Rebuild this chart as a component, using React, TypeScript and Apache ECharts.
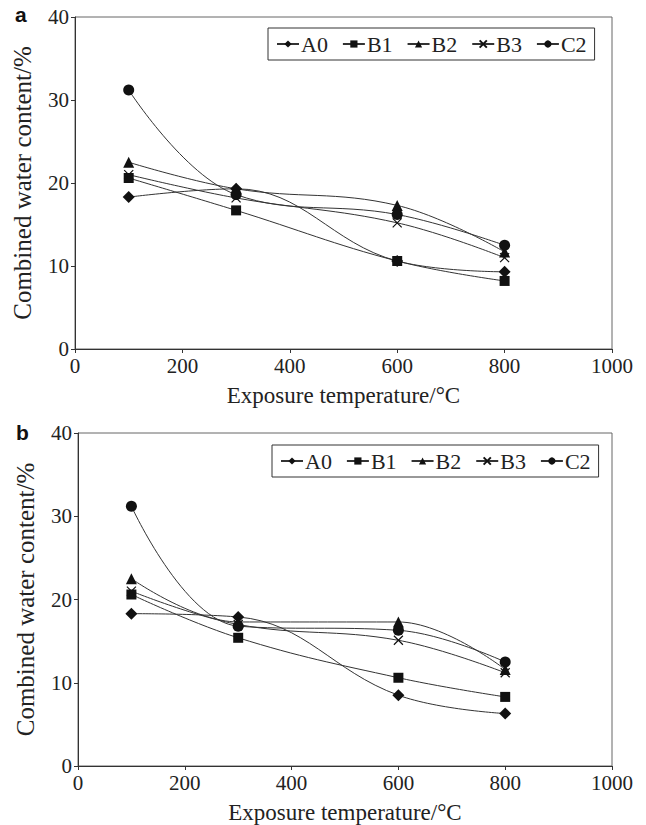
import React, { useEffect, useRef } from "react";
import * as echarts from "echarts";

const temperatures = [100, 300, 600, 800];
const seriesNames = ["A0", "B1", "B2", "B3", "C2"];

// Panel a
const a_A0 = [18.3, 19.3, 10.6, 9.3];
const a_B1 = [20.6, 16.7, 10.6, 8.2];
const a_B2 = [22.5, 19.3, 17.3, 11.7];
const a_B3 = [21.0, 18.2, 15.2, 11.0];
const a_C2 = [31.2, 18.6, 16.2, 12.5];

// Panel b
const b_A0 = [18.3, 17.9, 8.5, 6.3];
const b_B1 = [20.6, 15.4, 10.6, 8.3];
const b_B2 = [22.5, 17.3, 17.3, 11.6];
const b_B3 = [21.0, 17.0, 15.1, 11.2];
const b_C2 = [31.2, 16.8, 16.3, 12.5];

const xTicks = [0, 200, 400, 600, 800, 1000];
const yTicks = [0, 10, 20, 30, 40];

const symbols: Record<string, { symbol: string; size: number }> = {
  A0: { symbol: "diamond", size: 12 },
  B1: { symbol: "rect", size: 10 },
  B2: { symbol: "triangle", size: 11 },
  B3: { symbol: "path://M0,0L10,10M10,0L0,10", size: 9 },
  C2: { symbol: "circle", size: 11 },
};

const FONT = "Liberation Serif";

export default function App() {
  const ref = useRef<HTMLDivElement>(null);
  useEffect(() => {
    if (!ref.current) return;
    const chart = echarts.init(ref.current, undefined, { renderer: "svg" });
    const panels = [
      [a_A0, a_B1, a_B2, a_B3, a_C2],
      [b_A0, b_B1, b_B2, b_B3, b_C2],
    ];
    const grids = [
      { left: 75, top: 17, width: 537, height: 332 },
      { left: 78, top: 433, width: 534, height: 333 },
    ];
    const xAxis = grids.map((_, i) => ({
      type: "value",
      gridIndex: i,
      min: xTicks[0],
      max: xTicks[xTicks.length - 1],
      interval: 200,
      name: "Exposure temperature/°C",
      nameLocation: "middle",
      nameGap: 35,
      nameTextStyle: { fontFamily: FONT, fontSize: 23, color: "#222" },
      axisLine: { show: true, lineStyle: { color: "#333", width: 1 } },
      axisTick: { show: true, inside: false, length: 4, lineStyle: { color: "#333" } },
      axisLabel: { fontFamily: FONT, fontSize: 21, color: "#222", margin: 6, formatter: (v: number) => String(v) },
      splitLine: { show: false },
    }));
    const yAxis = grids.map((_, i) => ({
      type: "value",
      gridIndex: i,
      min: yTicks[0],
      max: yTicks[yTicks.length - 1],
      interval: 10,
      name: "Combined water content/%",
      nameLocation: "middle",
      nameGap: 40,
      nameTextStyle: { fontFamily: FONT, fontSize: 25, color: "#222" },
      axisLine: { show: true, lineStyle: { color: "#333", width: 1 } },
      axisTick: { show: true, inside: false, length: 4, lineStyle: { color: "#333" } },
      axisLabel: { fontFamily: FONT, fontSize: 21, color: "#222", margin: 6 },
      splitLine: { show: false },
    }));
    const series: any[] = [];
    panels.forEach((vals, p) => {
      vals.forEach((v, k) => {
        const name = seriesNames[k];
        const isX = name === "B3";
        series.push({
          type: "line",
          name,
          xAxisIndex: p,
          yAxisIndex: p,
          data: temperatures.map((t, j) => [t, v[j]]),
          smooth: 0.4,
          symbol: symbols[name].symbol,
          symbolSize: symbols[name].size,
          lineStyle: { color: "#333", width: 1 },
          itemStyle: isX
            ? { color: "#fff", borderColor: "#111", borderWidth: 1.2 }
            : { color: "#111", borderWidth: 0 },
          z: 3,
        });
      });
    });
    const legendBase = {
      data: seriesNames,
      orient: "horizontal",
      itemWidth: 22,
      itemHeight: 9,
      itemGap: 14,
      borderColor: "#333",
      borderWidth: 1,
      padding: [5, 8, 5, 8],
      textStyle: { fontFamily: FONT, fontSize: 22, color: "#222", padding: [0, 0, 0, -3] },
      backgroundColor: "#fff",
    };
    chart.setOption({
      animation: false,
      backgroundColor: "#fff",
      grid: grids.map((g) => ({ ...g, show: true, borderColor: "#666", borderWidth: 1, backgroundColor: "transparent" })),
      xAxis,
      yAxis,
      legend: [
        { ...legendBase, left: 268, top: 28 },
        { ...legendBase, left: 272, top: 445 },
      ],
      graphic: [
        { type: "text", left: 15, top: 4, style: { text: "a", font: "bold 21px 'Liberation Sans', Arial, sans-serif", fill: "#111" } },
        { type: "text", left: 16, top: 422, style: { text: "b", font: "bold 21px 'Liberation Sans', Arial, sans-serif", fill: "#111" } },
      ],
      series,
    });
    return () => chart.dispose();
  }, []);
  return <div ref={ref} style={{ position: "fixed", left: 0, top: 0, width: 646, height: 825 }} />;
}
